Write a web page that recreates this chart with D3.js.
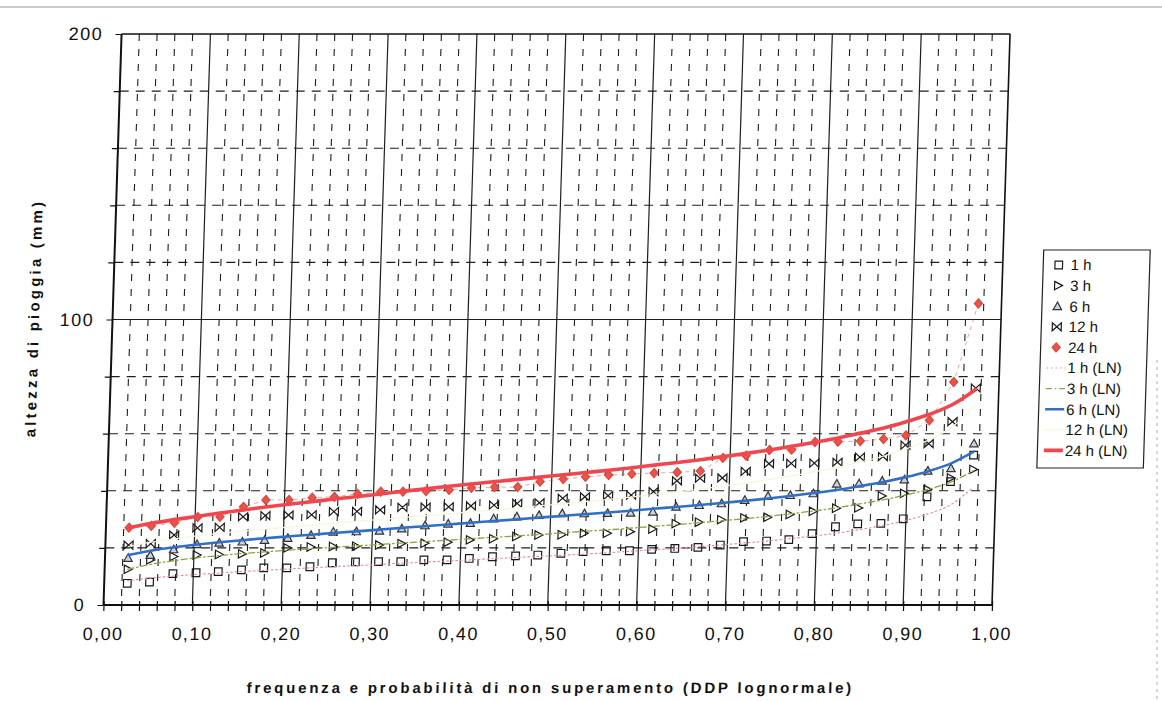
<!DOCTYPE html>
<html>
<head>
<meta charset="utf-8">
<script src="https://cdn.jsdelivr.net/npm/d3@7/dist/d3.min.js"></script>
<style>
	body { margin: 0; background: #fff; }
	svg { display: block; font-family: 'Liberation Sans', Arial, sans-serif; }
</style>
</head>
<body>
<div id="chart_div"></div>
<script>
// frequenza di non superamento (plotting positions)
var freq = [0.026, 0.051, 0.077, 0.103, 0.128, 0.154, 0.179, 0.205, 0.231, 0.256,
	0.282, 0.308, 0.333, 0.359, 0.385, 0.410, 0.436, 0.462, 0.487, 0.513,
	0.538, 0.564, 0.590, 0.615, 0.641, 0.667, 0.692, 0.718, 0.744, 0.769,
	0.795, 0.821, 0.846, 0.872, 0.897, 0.923, 0.949, 0.974];

// observed maxima (mm)
var h1 = [7.6, 8.0, 11.0, 11.3, 11.7, 12.3, 13.0, 13.0, 13.4, 14.8,
	15.1, 15.2, 15.2, 15.8, 15.8, 16.3, 16.9, 17.2, 17.5, 18.1,
	18.7, 19.0, 19.0, 19.5, 19.8, 20.2, 21.0, 22.2, 22.4, 22.9,
	25.0, 27.4, 28.4, 28.6, 30.2, 37.9, 43.2, 52.5];
var h3 = [12.5, 15.8, 17.0, 17.5, 17.7, 17.9, 18.2, 20.0, 20.3, 20.5,
	20.6, 21.0, 21.5, 21.6, 22.0, 22.8, 23.2, 24.0, 24.5, 24.6,
	25.1, 25.1, 25.7, 26.6, 28.5, 29.0, 29.9, 30.5, 30.7, 31.7,
	32.8, 33.9, 34.0, 38.2, 39.1, 40.5, 44.5, 47.5];
var h6 = [16.5, 17.5, 19.5, 21.3, 21.8, 22.2, 22.8, 23.5, 24.5, 25.7,
	25.8, 26.0, 26.8, 27.9, 28.5, 28.7, 30.3, 31.0, 31.5, 32.1,
	32.1, 32.2, 32.3, 32.7, 34.4, 35.0, 35.6, 36.8, 38.2, 38.5,
	39.1, 42.5, 42.6, 43.5, 44.0, 47.0, 47.9, 56.6];
var h12 = [21.0, 21.5, 24.5, 27.0, 27.2, 30.9, 31.3, 31.5, 31.6, 32.7,
	32.8, 33.3, 34.2, 34.3, 34.4, 34.7, 35.0, 35.6, 35.8, 37.4,
	37.9, 38.3, 38.5, 39.7, 43.5, 44.4, 44.5, 46.8, 49.5, 49.6,
	49.7, 50.0, 51.8, 52.0, 56.0, 56.5, 64.2, 76.0];
var h24 = [27.1, 27.7, 28.8, 30.8, 30.9, 34.4, 36.8, 36.8, 37.6, 37.9,
	38.9, 39.7, 39.7, 39.9, 40.3, 41.0, 41.3, 41.3, 43.2, 44.1,
	44.9, 45.5, 45.9, 46.2, 46.5, 46.9, 51.5, 52.3, 54.3, 54.4,
	57.1, 57.2, 57.4, 58.1, 59.4, 64.7, 78.1, 105.6];

// lognormal fits (mm)
var ln1 = [8.5, 9.4, 10.1, 10.7, 11.2, 11.7, 12.1, 12.6, 13.0, 13.4,
	13.8, 14.2, 14.6, 15.0, 15.4, 15.8, 16.2, 16.6, 17.0, 17.4,
	17.8, 18.3, 18.8, 19.3, 19.8, 20.4, 21.0, 21.7, 22.4, 23.2,
	24.1, 25.1, 26.3, 27.7, 29.4, 31.7, 35.0, 41.0];
var ln3 = [12.5, 14.2, 15.5, 16.5, 17.3, 18.0, 18.6, 19.2, 19.7, 20.2,
	20.7, 21.2, 21.7, 22.2, 22.7, 23.2, 23.7, 24.2, 24.7, 25.2,
	25.8, 26.3, 26.9, 27.5, 28.1, 28.8, 29.5, 30.2, 31.0, 31.9,
	32.9, 34.0, 35.3, 36.7, 38.4, 40.4, 43.0, 47.0];
var ln6 = [17.5, 19.0, 20.2, 21.2, 22.0, 22.7, 23.4, 24.0, 24.6, 25.2,
	25.8, 26.4, 27.0, 27.6, 28.2, 28.8, 29.4, 30.0, 30.6, 31.2,
	31.8, 32.4, 33.0, 33.7, 34.3, 35.0, 35.7, 36.5, 37.3, 38.2,
	39.2, 40.3, 41.6, 43.0, 44.7, 46.8, 49.6, 53.7];
var ln12 = [20.5, 22.0, 23.2, 24.2, 25.1, 25.9, 26.6, 27.3, 28.0, 28.7,
	29.3, 30.0, 30.6, 31.3, 31.9, 32.6, 33.3, 34.0, 34.7, 35.4,
	36.2, 37.0, 37.8, 38.7, 39.6, 40.6, 41.6, 42.7, 43.9, 45.2,
	46.6, 48.2, 50.0, 52.1, 54.6, 57.8, 62.3, 70.0];
var ln24 = [27.0, 28.6, 29.9, 31.1, 32.2, 33.3, 34.3, 35.3, 36.2, 37.1,
	38.0, 38.9, 39.8, 40.7, 41.6, 42.4, 43.2, 44.0, 44.8, 45.6,
	46.4, 47.2, 48.1, 49.0, 49.9, 50.9, 52.0, 53.1, 54.3, 55.6,
	57.0, 58.5, 60.2, 62.0, 64.2, 66.8, 70.3, 75.5];

var x_ticks = [0, 0.1, 0.2, 0.3, 0.4, 0.5, 0.6, 0.7, 0.8, 0.9, 1.0];
var y_ticks = [0, 100, 200];
var legend_labels = ['1 h', '3 h', '6 h', '12 h', '24 h',
	'1 h (LN)', '3 h (LN)', '6 h (LN)', '12 h (LN)', '24 h (LN)'];

var width = 1162;
var height = 701;
var plot = { left: 103.5, right: 992, top: 34, bottom: 605 };

var shapes = {
	square: 'M-3.8,-3.8L3.8,-3.8L3.8,3.8L-3.8,3.8Z',
	tri_right: 'M-3.5,-4.2L4.5,0L-3.5,4.2Z',
	tri_up: 'M0,-4.2L4.2,3.4L-4.2,3.4Z',
	bowtie: 'M-4.5,-4L-4.5,4L4.5,-4L4.5,4Z',
	diamond: 'M0,-4.5L4,0L0,4.5L-4,0Z'
};

// marker series and fitted series (built from the arrays above)
var marker_series = [
	{ label: legend_labels[0], values: h1, shape: 'square', stroke: '#1a1a1a', fill: 'none' },
	{ label: legend_labels[1], values: h3, shape: 'tri_right', stroke: '#1a1a1a', fill: 'none' },
	{ label: legend_labels[2], values: h6, shape: 'tri_up', stroke: '#333', fill: '#c9d3e2' },
	{ label: legend_labels[3], values: h12, shape: 'bowtie', stroke: '#1a1a1a', fill: 'none' },
	{ label: legend_labels[4], values: h24, shape: 'diamond', stroke: '#e3403c', fill: '#e8554a', thin_line: true }
];
var fit_series = [
	{ label: legend_labels[5], values: ln1, stroke: '#e98aa2', width: 1.2, dash: '1.5,3' },
	{ label: legend_labels[6], values: ln3, stroke: '#86a83c', width: 1.3, dash: '6,3,1.5,3' },
	{ label: legend_labels[7], values: ln6, stroke: '#2f6fc6', width: 2.6, dash: null },
	{ label: legend_labels[8], values: ln12, stroke: '#f8f5dc', width: 1.2, dash: null },
	{ label: legend_labels[9], values: ln24, stroke: '#f0474f', width: 3.6, dash: null }
];

function draw_svg(div_id) {
	var svg = d3.select('#' + div_id)
		.append('svg')
		.attr('width', width)
		.attr('height', height);
	svg.append('rect').attr('width', width).attr('height', height).attr('fill', '#fff');
	// edges of the scanned page
	svg.append('line')
		.attr('x1', 0).attr('x2', width).attr('y1', 7).attr('y2', 7)
		.attr('stroke', '#9a9a9a').attr('stroke-width', 1.2);
	svg.append('line')
		.attr('x1', 1157).attr('x2', 1157).attr('y1', 360).attr('y2', height)
		.attr('stroke', '#b0b0b0').attr('stroke-width', 1).attr('stroke-dasharray', '3,4');
	return svg;
}

var svg = draw_svg('chart_div');
// the scanned page is slightly sheared
var g = svg.append('g')
	.attr('transform', 'translate(0,' + plot.bottom + ') skewX(-1.81) translate(0,' + (-plot.bottom) + ')');

var x = d3.scaleLinear().domain([0, 1]).range([plot.left, plot.right]);
var y = d3.scaleLinear().domain([0, 200]).range([plot.bottom, plot.top]);

// grid
var grid = g.append('g').attr('class', 'grid');
var x_grid = d3.range(1, 50).map((i) => i / 50);
grid.selectAll('.vgrid')
	.data(x_grid)
	.enter()
	.append('line')
	.attr('x1', (d) => x(d)).attr('x2', (d) => x(d))
	.attr('y1', y(200)).attr('y2', y(0))
	.attr('stroke', '#1e1e1e')
	.attr('stroke-width', (d, i) => ((i + 1) % 5 === 0 ? 1.2 : 1.1))
	.attr('stroke-dasharray', (d, i) => ((i + 1) % 5 === 0 ? null : '7,8'));
var y_grid = d3.range(20, 200, 20);
grid.selectAll('.hgrid')
	.data(y_grid)
	.enter()
	.append('line')
	.attr('x1', x(0)).attr('x2', x(1))
	.attr('y1', (d) => y(d)).attr('y2', (d) => y(d))
	.attr('stroke', '#1e1e1e')
	.attr('stroke-width', (d) => (d === 100 ? 1.2 : 1.1))
	.attr('stroke-dasharray', (d) => (d === 100 ? null : '9,7'));

// plot frame (top and right)
g.append('line')
	.attr('x1', x(0)).attr('x2', x(1)).attr('y1', y(200)).attr('y2', y(200))
	.attr('stroke', '#111').attr('stroke-width', 1.6);
g.append('line')
	.attr('x1', x(1)).attr('x2', x(1)).attr('y1', y(200)).attr('y2', y(0))
	.attr('stroke', '#111').attr('stroke-width', 1.6);

// axes
var minor_ticks = d3.range(0, 51).map((i) => i / 50);
g.append('g')
	.attr('transform', 'translate(0,' + plot.bottom + ')')
	.call(d3.axisBottom(x).tickValues(minor_ticks).tickSize(6).tickFormat(''))
	.call((a) => a.select('.domain').remove());
g.append('g')
	.attr('transform', 'translate(0,' + plot.bottom + ')')
	.call(d3.axisTop(x).tickValues(minor_ticks).tickSize(4).tickFormat(''))
	.call((a) => a.select('.domain').remove());
g.append('g')
	.attr('class', 'x_labels')
	.attr('transform', 'translate(0,' + plot.bottom + ')')
	.call(d3.axisBottom(x).tickValues(x_ticks).tickSize(0).tickPadding(22)
		.tickFormat((d) => d3.format('.2f')(d).replace('.', ',')))
	.call((a) => a.select('.domain').remove());
g.append('g')
	.attr('class', 'y_labels')
	.attr('transform', 'translate(' + plot.left + ',0)')
	.call(d3.axisLeft(y).tickValues(d3.range(0, 201, 20)).tickSize(6).tickPadding(12.5)
		.tickFormat((d) => (y_ticks.indexOf(d) >= 0 ? d : '')))
	.call((a) => a.select('.domain').remove());
g.selectAll('.tick line').attr('stroke', '#111').attr('stroke-width', 1.2);
g.selectAll('.x_labels text, .y_labels text')
	.attr('font-family', "'Liberation Sans', Arial, sans-serif")
	.attr('font-size', 18)
	.attr('letter-spacing', 1.4)
	.attr('fill', '#111');

g.append('line')
	.attr('x1', x(0)).attr('x2', x(1)).attr('y1', y(0)).attr('y2', y(0))
	.attr('stroke', '#111').attr('stroke-width', 2);
g.append('line')
	.attr('x1', x(0)).attr('x2', x(0)).attr('y1', y(0)).attr('y2', y(200))
	.attr('stroke', '#111').attr('stroke-width', 2);

// axis titles
g.append('text')
	.attr('transform', 'translate(30,318) rotate(-90)')
	.attr('text-anchor', 'middle')
	.attr('font-size', 15)
	.attr('font-weight', 'bold')
	.attr('letter-spacing', 3.2)
	.attr('fill', '#111')
	.text('altezza di pioggia (mm)');
g.append('text')
	.attr('x', 553)
	.attr('y', 693)
	.attr('text-anchor', 'middle')
	.attr('font-size', 15)
	.attr('font-weight', 'bold')
	.attr('letter-spacing', 2.8)
	.attr('fill', '#111')
	.text('frequenza e probabilità di non superamento (DDP lognormale)');

// data
var line_gen = d3.line()
	.x((d, i) => x(freq[i]))
	.y((d) => y(d));
var smooth_gen = d3.line()
	.x((d, i) => x(freq[i]))
	.y((d) => y(d))
	.curve(d3.curveMonotoneX);

var data_g = g.append('g').attr('class', 'data');
for (var s in marker_series) {
	var ms = marker_series[s];
	if (ms.thin_line) {
		data_g.append('path')
			.attr('d', line_gen(ms.values))
			.attr('fill', 'none')
			.attr('stroke', ms.stroke)
			.attr('stroke-opacity', 0.55)
			.attr('stroke-width', 0.9)
			.attr('stroke-dasharray', '4,4');
	}
	data_g.append('g')
		.selectAll('path')
		.data(ms.values)
		.enter()
		.append('path')
		.attr('d', shapes[ms.shape])
		.attr('transform', (d, i) => 'translate(' + x(freq[i]) + ',' + y(d) + ')')
		.attr('fill', ms.fill)
		.attr('stroke', ms.stroke)
		.attr('stroke-width', 1.2);
}
for (var f in fit_series) {
	var fs = fit_series[f];
	data_g.append('path')
		.attr('d', smooth_gen(fs.values))
		.attr('fill', 'none')
		.attr('stroke', fs.stroke)
		.attr('stroke-width', fs.width)
		.attr('stroke-dasharray', fs.dash)
		.attr('stroke-linecap', 'round');
}

// legend
var legend = g.append('g').attr('class', 'legend');
legend.append('rect')
	.attr('x', 1032.5)
	.attr('y', 250)
	.attr('width', 106.5)
	.attr('height', 218)
	.attr('fill', '#fff')
	.attr('stroke', '#222')
	.attr('stroke-width', 1.2);
var row_y = (i) => 265 + i * 20.6;
var legend_items = marker_series.map((d) => ({ type: 'marker', s: d }))
	.concat(fit_series.map((d) => ({ type: 'line', s: d })));
legend_items.forEach(function (item, i) {
	var cy = row_y(i);
	if (item.type === 'marker') {
		legend.append('path')
			.attr('d', shapes[item.s.shape])
			.attr('transform', 'translate(1048,' + cy + ')')
			.attr('fill', item.s.fill)
			.attr('stroke', item.s.stroke)
			.attr('stroke-width', 1.2);
	} else {
		legend.append('line')
			.attr('x1', 1039).attr('x2', 1058)
			.attr('y1', cy).attr('y2', cy)
			.attr('stroke', item.s.stroke)
			.attr('stroke-width', item.s.width)
			.attr('stroke-dasharray', item.s.dash);
	}
	legend.append('text')
		.attr('x', 1060)
		.attr('y', cy + 5.5)
		.attr('font-size', 15)
		.attr('fill', '#111')
		.text(item.s.label);
});
</script>
</body>
</html>
